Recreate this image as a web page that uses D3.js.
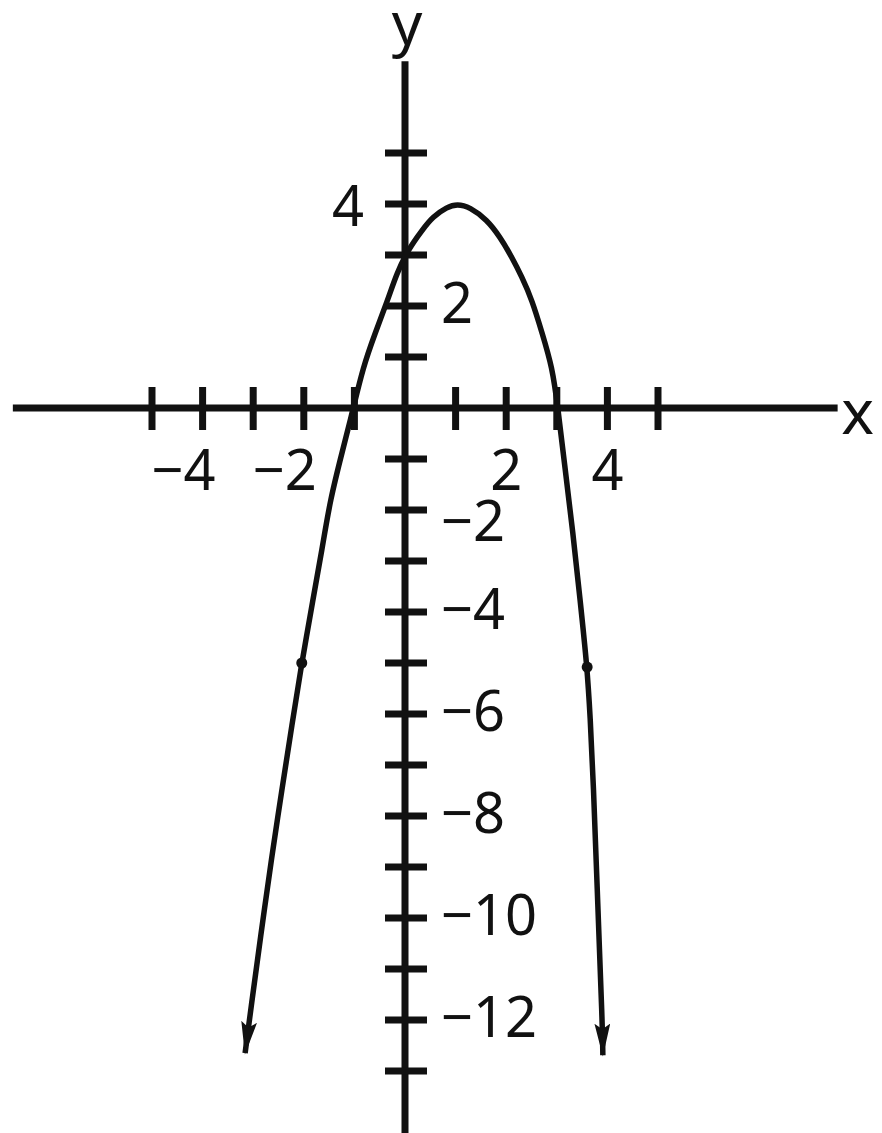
<!DOCTYPE html>
<html><head><meta charset="utf-8">
<script src="https://cdn.jsdelivr.net/npm/d3@7"></script>
<style>body{margin:0;background:#fff}svg{display:block}</style>
</head><body><svg id="chart" width="882" height="1133"></svg>
<script>
// Curve points (left arrow tip -> vertex -> right arrow tip)
const curveX = [-3.16, -3.06, -2.77, -2.53, -2.21, -2.04, -1.82, -1.64, -1.48, -1.23, -1.03, -0.83, -0.59, -0.34, -0.16, 0.06, 0.34, 0.55, 0.83, 1.03, 1.28, 1.62, 1.88, 2.11, 2.31, 2.51, 2.71, 2.91, 3.02, 3.16, 3.32, 3.46, 3.60, 3.66, 3.72, 3.81, 3.90, 3.91];
const curveY = [-12.65, -11.88, -9.75, -8.10, -6.06, -5.0, -3.76, -2.78, -1.80, -0.82, -0.04, 0.80, 1.47, 2.12, 2.65, 3.10, 3.49, 3.75, 3.94, 4.0, 3.94, 3.69, 3.35, 2.96, 2.57, 2.12, 1.47, 0.80, 0.02, -1.16, -2.45, -3.76, -5.08, -6.06, -7.27, -9.75, -12.06, -12.69];
// Marked points on the curve
const markedX = [-2.04, 3.6];
const markedY = [-5, -5.08];
// Axes
const xTicks = [-5, -4, -3, -2, -1, 1, 2, 3, 4, 5];
const xTickLabels = [-4, -2, 2, 4];
const yTicks = [5, 4, 3, 2, 1, -1, -2, -3, -4, -5, -6, -7, -8, -9, -10, -11, -12, -13];
const yTickLabelsLeft = [4];
const yTickLabelsRight = [2, -2, -4, -6, -8, -10, -12];
const xAxisExtent = [-7.75, 8.55];
const yAxisExtent = [-14.4, 6.8];
const axisNames = ["x", "y"];

const svg = d3.select("#chart");
const x = d3.scaleLinear().domain([-5, 5]).range([152, 658]);
const y = d3.scaleLinear().domain([4, -12]).range([204, 1020]);
const fmt = v => (v < 0 ? "\u2212" + Math.abs(v) : String(v));
const FONT = "'Noto Sans', 'DejaVu Sans', sans-serif";
const ink = "#111";

svg.append("rect").attr("width", 882).attr("height", 1133).attr("fill", "#fff");

const defs = svg.append("defs");
defs.append("marker")
  .attr("id", "arrow").attr("viewBox", "0 0 23 11")
  .attr("refX", 22).attr("refY", 5.5)
  .attr("markerWidth", 6.0).attr("markerHeight", 2.9)
  .attr("markerUnits", "strokeWidth")
  .attr("orient", "auto-start-reverse")
  .append("path").attr("d", "M0,0 L23,5.5 L0,11 L4,5.5 z").attr("fill", ink);

// axes lines
svg.append("line")
  .attr("x1", x(xAxisExtent[0])).attr("x2", x(xAxisExtent[1]))
  .attr("y1", y(0)).attr("y2", y(0))
  .attr("stroke", ink).attr("stroke-width", 7);
svg.append("line")
  .attr("x1", x(0)).attr("x2", x(0))
  .attr("y1", y(yAxisExtent[1])).attr("y2", y(yAxisExtent[0]))
  .attr("stroke", ink).attr("stroke-width", 7);

// ticks
svg.append("g").selectAll("line").data(xTicks).join("line")
  .attr("x1", d => x(d)).attr("x2", d => x(d))
  .attr("y1", y(0) - 21).attr("y2", y(0) + 22)
  .attr("stroke", ink).attr("stroke-width", 7);
svg.append("g").selectAll("line").data(yTicks).join("line")
  .attr("y1", d => y(d)).attr("y2", d => y(d))
  .attr("x1", x(0) - 20).attr("x2", x(0) + 22)
  .attr("stroke", ink).attr("stroke-width", 7);

// tick labels
const lbl = svg.append("g").attr("font-family", FONT).attr("font-size", 56).attr("fill", ink);
lbl.selectAll("text.xl").data(xTickLabels).join("text").attr("class", "xl")
  .attr("x", d => d < 0 ? x(d) + 13 : x(d))
  .attr("y", y(0) + 82)
  .attr("text-anchor", d => d < 0 ? "end" : "middle")
  .text(fmt);
lbl.selectAll("text.yll").data(yTickLabelsLeft).join("text").attr("class", "yll")
  .attr("x", x(0) - 41).attr("y", d => y(d) + 22)
  .attr("text-anchor", "end").text(fmt);
// the "−2" label sits a little lower to clear the x-axis "2"
lbl.selectAll("text.ylr").data(yTickLabelsRight).join("text").attr("class", "ylr")
  .attr("x", x(0) + 36).attr("y", d => y(d) + 17 + (d === -2 ? 14 : 0))
  .attr("text-anchor", "start").text(fmt);

// axis names
svg.append("text").attr("font-family", FONT).attr("font-size", 62).attr("fill", ink)
  .attr("x", x(xAxisExtent[1]) + 20).attr("y", y(0) + 26)
  .attr("text-anchor", "middle").text(axisNames[0]);
svg.append("text").attr("font-family", FONT).attr("font-size", 60).attr("fill", ink)
  .attr("x", x(0) + 2).attr("y", y(yAxisExtent[1]) - 16)
  .attr("text-anchor", "middle").text(axisNames[1]);

// curve (B-spline through the read points smooths reading noise)
const pts = curveX.map((v, i) => [v, curveY[i]]);
const line = d3.line().x(d => x(d[0])).y(d => y(d[1])).curve(d3.curveBasis);
svg.append("path").attr("d", line(pts))
  .attr("fill", "none").attr("stroke", ink).attr("stroke-width", 5.5)
  .attr("stroke-linejoin", "round")
  .attr("marker-start", "url(#arrow)").attr("marker-end", "url(#arrow)");

// marked points
svg.append("g").selectAll("circle").data(markedX).join("circle")
  .attr("cx", d => x(d)).attr("cy", (d, i) => y(markedY[i]))
  .attr("r", 5.5).attr("fill", ink);
</script></body></html>
